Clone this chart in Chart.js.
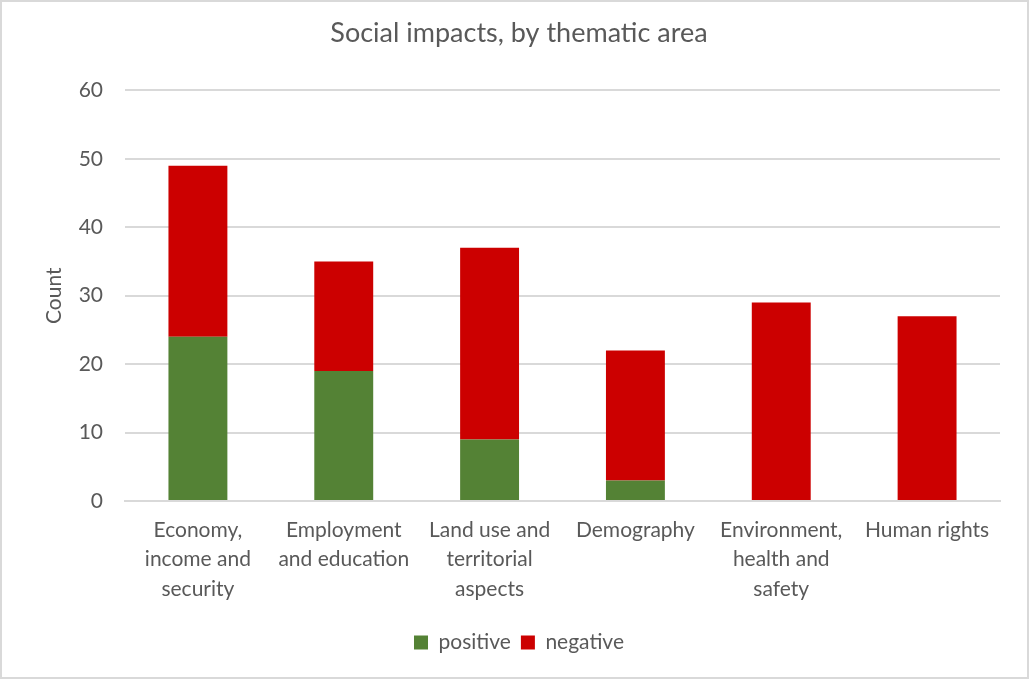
<!DOCTYPE html>
<html>
<head>
<meta charset="utf-8">
<script src="https://cdn.jsdelivr.net/npm/chart.js@4"></script>
<style>
  body { margin: 0; background: #fff; }
  #wrap { width: 1029px; height: 679px; box-sizing: border-box; border: 2px solid #d9d9d9; position: relative; }
</style>
</head>
<body>
<div id="wrap"><canvas id="grafico"></canvas></div>
<script>
// categorias (eixo x)
const categories = [
    ['Economy,', 'income and', 'security'],
    ['Employment', 'and education'],
    ['Land use and', 'territorial', 'aspects'],
    'Demography',
    ['Environment,', 'health and', 'safety'],
    'Human rights'
];
// valores
const positive = [24, 19, 9, 3, 0, 0];
const negative = [25, 16, 28, 19, 29, 27];
const yTicks = [0, 10, 20, 30, 40, 50, 60];

const textColor = '#595959';
const fontFam = 'Lato, "Open Sans", sans-serif';

window.onload = function() {
    const ctx = document.getElementById('grafico').getContext('2d');
    new Chart(ctx, {
        type: 'bar',
        data: {
            labels: categories,
            datasets: [{
                label: 'positive',
                data: positive,
                backgroundColor: '#548235',
                borderWidth: 0,
                categoryPercentage: 1,
                barPercentage: 0.404
            }, {
                label: 'negative',
                data: negative,
                backgroundColor: '#CC0000',
                borderWidth: 0,
                categoryPercentage: 1,
                barPercentage: 0.404
            }]
        },
        options: {
            responsive: true,
            maintainAspectRatio: false,
            animation: false,
            layout: { padding: { left: 36, right: 27, top: 6, bottom: 14 } },
            plugins: {
                title: {
                    display: true,
                    text: 'Social impacts, by thematic area',
                    color: textColor,
                    font: { family: fontFam, size: 27, weight: 'normal' },
                    padding: { top: 9, bottom: 41 }
                },
                legend: {
                    position: 'bottom',
                    labels: {
                        color: textColor,
                        font: { family: fontFam, size: 21 },
                        boxWidth: 14,
                        boxHeight: 14,
                        padding: 10
                    }
                },
                tooltip: { enabled: false }
            },
            scales: {
                x: {
                    stacked: true,
                    grid: { display: false },
                    border: { color: '#d9d9d9', width: 2 },
                    ticks: {
                        color: textColor,
                        font: { family: fontFam, size: 21, lineHeight: 1.42 },
                        padding: 6,
                        maxRotation: 0,
                        autoSkip: false
                    },
                    afterFit: function(scale) { scale.height = 121; }
                },
                y: {
                    stacked: true,
                    min: 0,
                    max: 60,
                    afterBuildTicks: function(scale) {
                        scale.ticks = yTicks.map(v => ({ value: v }));
                    },
                    grid: { color: '#d9d9d9', lineWidth: 2, drawTicks: false },
                    border: { display: false },
                    ticks: {
                        color: textColor,
                        font: { family: fontFam, size: 21 },
                        padding: 22
                    },
                    title: {
                        display: true,
                        text: 'Count',
                        color: textColor,
                        font: { family: fontFam, size: 21 },
                        padding: 4
                    },
                    afterFit: function(scale) { scale.width = 87; }
                }
            }
        }
    });
};
</script>
</body>
</html>
